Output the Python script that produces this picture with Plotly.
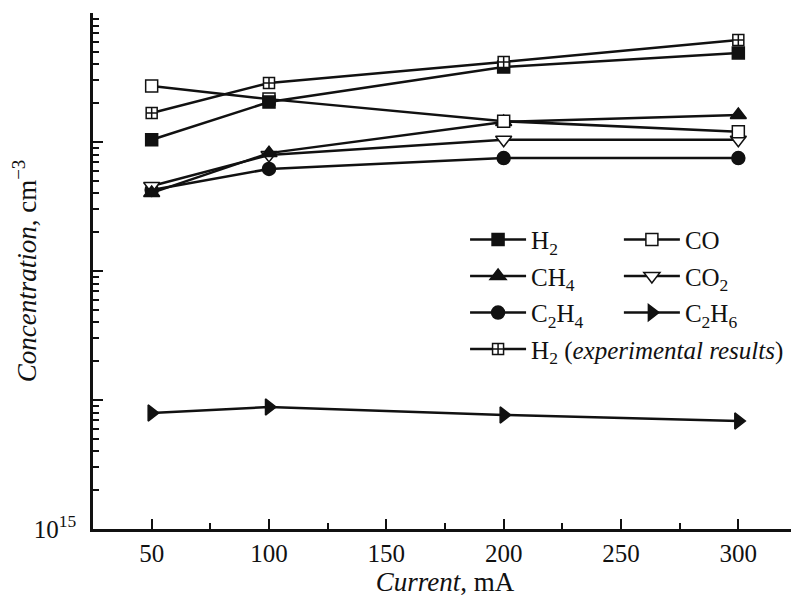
import plotly.graph_objects as go

current = [50, 100, 200, 300]
h2 = [1.04e18, 2.04e18, 3.81e18, 4.9e18]
co = [2.72e18, 2.15e18, 1.45e18, 1.2e18]
ch4 = [4.03e17, 8.2e17, 1.43e18, 1.62e18]
co2 = [4.56e17, 7.93e17, 1.04e18, 1.04e18]
c2h4 = [4.25e17, 6.18e17, 7.5e17, 7.5e17]
c2h6 = [7.93e15, 8.83e15, 7.65e15, 6.87e15]
h2_exp = [1.68e18, 2.87e18, 4.17e18, 6.18e18]

FONT = "Liberation Serif"
fig = go.Figure()

def add(y, name, symbol, filled, legend, rank, size=12):
    fig.add_trace(go.Scatter(
        x=current, y=y, name=name, mode="lines+markers",
        line=dict(color="#111", width=2.5),
        marker=dict(symbol=symbol, size=size,
                    color="#111" if filled else "white",
                    line=dict(color="#111", width=1.5)),
        legend=legend, legendgroup=name, legendrank=rank,
    ))

add(c2h6, "C<sub>2</sub>H<sub>6</sub>", "triangle-right", True, "legend2", 3, 14)
add(c2h4, "C<sub>2</sub>H<sub>4</sub>", "circle", True, "legend", 3, 13)
add(co2, "CO<sub>2</sub>", "triangle-down", False, "legend2", 2, 14)
add(ch4, "CH<sub>4</sub>", "triangle-up", True, "legend", 2, 14)
add(co, "CO", "square", False, "legend2", 1, 12)
add(h2, "H<sub>2</sub>", "square", True, "legend", 1, 12)
add(h2_exp, "H<sub>2</sub> (<i>experimental results</i>)", "square-cross", False, "legend", 4, 11)

minor_vals = [m * 10**e for e in range(15, 19) for m in range(2, 10)]

# page body has an 8px margin, so the figure is offset by (8, 8)
fig.update_layout(
    width=799, height=597,
    margin=dict(l=85, r=10, t=5, b=76),
    paper_bgcolor="white", plot_bgcolor="white",
    font=dict(family=FONT, size=25, color="#111"),
    showlegend=True,
    legend=dict(x=0.5285, y=0.605, xanchor="left", yanchor="top",
                traceorder="grouped", tracegroupgap=1,
                itemwidth=56, bgcolor="rgba(0,0,0,0)",
                font=dict(family=FONT, size=25)),
    legend2=dict(x=0.747, y=0.605, xanchor="left", yanchor="top",
                 traceorder="grouped", tracegroupgap=1,
                 itemwidth=56, bgcolor="rgba(0,0,0,0)",
                 font=dict(family=FONT, size=25)),
)

fig.update_xaxes(
    range=[25, 325], tickvals=[50, 100, 150, 200, 250, 300],
    ticks="inside", ticklen=10, tickwidth=1.5, tickcolor="#111",
    minor=dict(tickvals=[75, 125, 175, 225, 275], ticks="inside", ticklen=6, tickwidth=1.5, tickcolor="#111"),
    showline=True, linecolor="#111", linewidth=2.5, showgrid=False, zeroline=False,
    tickfont=dict(family=FONT, size=25), automargin=False,
    title=dict(text="<i>Current</i>, mA", font=dict(family=FONT, size=27), standoff=6),
)
fig.update_yaxes(
    type="log", range=[15, 19],
    tickvals=[1e15, 1e16, 1e17, 1e18, 1e19], ticktext=["10<sup>15</sup>", "", "", "", ""],
    ticks="inside", ticklen=10, tickwidth=1.5, tickcolor="#111",
    minor=dict(tickvals=minor_vals, ticks="inside", ticklen=6, tickwidth=1.5, tickcolor="#111"),
    showline=True, linecolor="#111", linewidth=2.5, showgrid=False, zeroline=False,
    tickfont=dict(family=FONT, size=25), automargin=False, ticklabelstandoff=9,
    title=dict(text="<i>Concentration</i>, cm<sup>−3</sup>", font=dict(family=FONT, size=27), standoff=9),
)

fig.write_html("out.html")
